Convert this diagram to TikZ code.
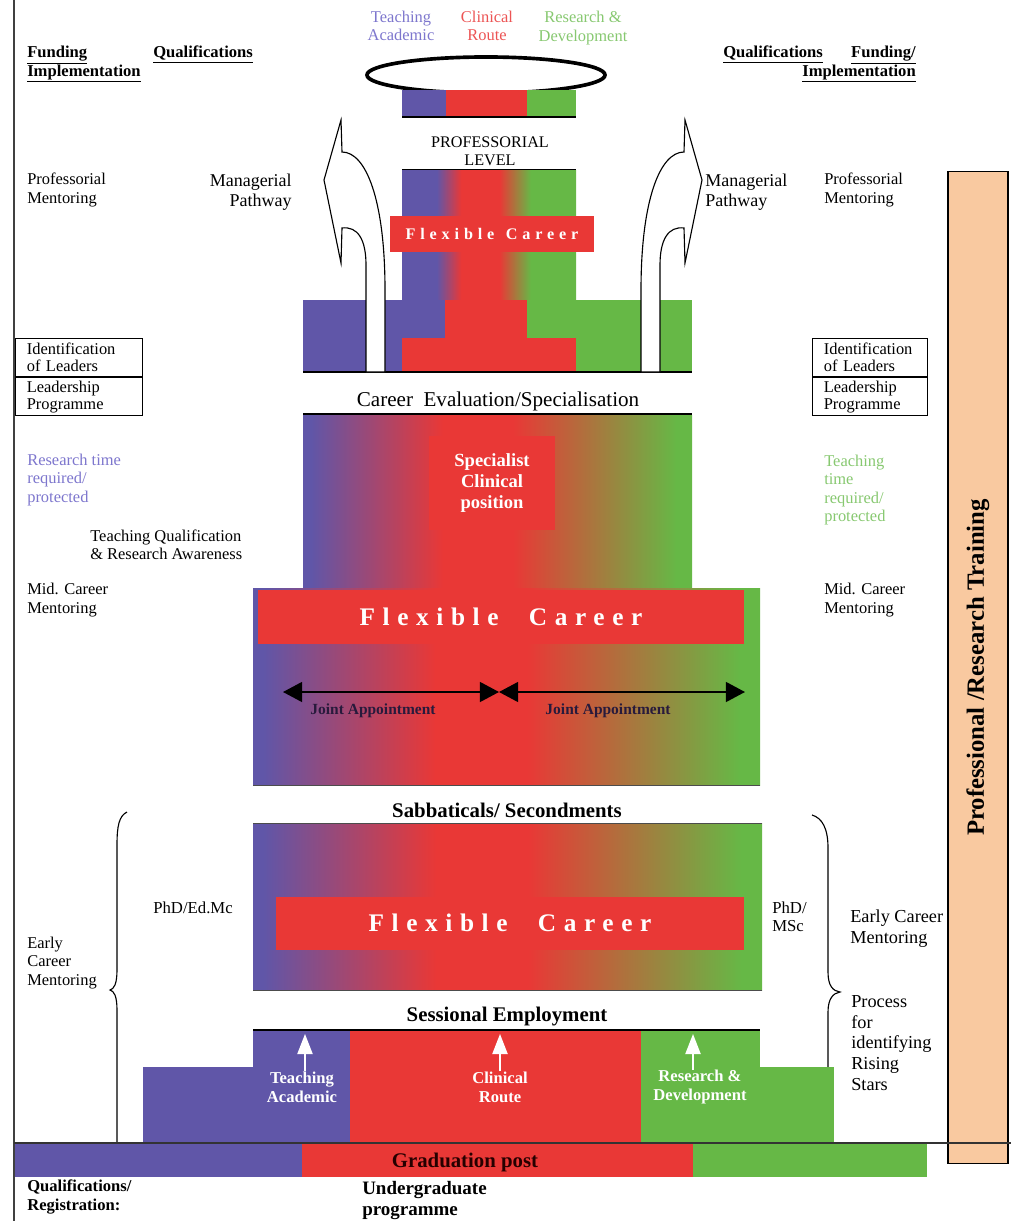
\documentclass[tikz,border=0pt]{standalone}
\usepackage{fontspec}
\setmainfont{Liberation Serif}
\usepackage{tikz}
\usetikzlibrary{calc,arrows.meta,positioning,shapes.geometric}

\definecolor{cblue}{RGB}{96,86,168}
\definecolor{cred}{RGB}{233,56,54}
\definecolor{cgreen}{RGB}{102,184,70}
\definecolor{cpeach}{RGB}{249,201,160}
\definecolor{ltblue}{RGB}{125,118,205}
\definecolor{ltred}{RGB}{236,84,84}
\definecolor{ltgreen}{RGB}{135,200,112}
\definecolor{navy}{RGB}{40,26,60}

\pgfdeclarehorizontalshading{career}{100bp}{color(0bp)=(cblue); color(26bp)=(cblue); color(43bp)=(cred); color(52bp)=(cred); color(73bp)=(cgreen); color(100bp)=(cgreen)}
\pgfdeclarehorizontalshading{tower}{100bp}{color(0bp)=(cblue); color(35bp)=(cblue); color(42bp)=(cred); color(53bp)=(cred); color(62bp)=(cgreen); color(100bp)=(cgreen)}

\begin{document}
\begin{tikzpicture}[x=0.025cm,y=-0.025cm]

  % Parameters
  \def\axis{1026}

  % Styles
  \tikzstyle{txt}=[inner sep=0pt,align=left,font=\fontsize{11.7}{13}\selectfont]
  \tikzstyle{head}=[inner sep=0pt,align=left,font=\fontsize{11.8}{13}\selectfont\bfseries]
  \tikzstyle{stage}=[inner sep=0pt,font=\fontsize{14.8}{16}\selectfont\bfseries]
  \tikzstyle{flex}=[fill=cred,text=white,inner sep=0pt,font=\fontsize{18}{20}\selectfont\bfseries\addfontfeature{LetterSpace=30}]
  \tikzstyle{route}=[text=white,inner sep=0pt,align=center,font=\fontsize{11.8}{13.5}\selectfont\bfseries]
  \tikzstyle{idbox}=[draw,thick,inner xsep=8pt,inner ysep=1pt,align=left,anchor=north west,minimum height=0.95cm,font=\fontsize{11.7}{12.2}\selectfont]
  \tikzstyle{rule}=[line width=1.5pt]
  \tikzstyle{pathway}=[draw,thick,fill=white]
  \tikzstyle{joint}=[line width=1.3pt,{Triangle[length=0.48cm,width=0.5cm]}-{Triangle[length=0.48cm,width=0.5cm]}]
  \tikzstyle{jlabel}=[inner sep=0pt,text=navy,font=\fontsize{11}{12}\selectfont\bfseries]
  \tikzstyle{rise}=[white,line width=1pt,-{Triangle[length=0.5cm,width=0.38cm]}]
  \tikzstyle{brace}=[thick]

  % \pathway{<transform>}
  \newcommand{\pathway}[1]{%
    \draw[pathway,#1] (641,372) -- (641,290) .. controls (641,200) and (660,152) .. (684,152)
      -- (685,120) -- (702,180) -- (685,263) -- (684,228)
      .. controls (668,226) and (660,240) .. (660,265) -- (660,372) -- cycle;
  }

  % ===========================================================================

  \useasboundingbox (0,0) rectangle (1011,1221);
  \draw[line width=1.5pt,black!75] (14,0) -- (14,1221);

  % Headings
  \node[txt,text=ltblue,align=center] (top-teach) at (401,26) {Teaching\\Academic};
  \node[txt,text=ltred,align=center] (top-clin) at (487,26) {Clinical\\Route};
  \node[txt,text=ltgreen,align=center] (top-rnd) at (583,28) {Research \&\\Development};
  \node[head,anchor=north west] (fund-l) at (27,46) {\underline{Funding}\\\underline{Implementation}};
  \node[head,anchor=north west] (qual-l) at (153,46) {\underline{Qualifications}};
  \node[head,anchor=north west] (qual-r) at (723,46) {\underline{Qualifications}};
  \node[head,anchor=north east,align=right] (fund-r) at (916,46) {\underline{Funding/}\\\underline{Implementation}};

  % Professorial level
  \node[draw,ellipse,line width=2.6pt,minimum width=5.95cm,minimum height=0.9cm] (halo) at (486,75) {};
  \fill[cblue] (402,90) rectangle (446,117);
  \fill[cred] (446,90) rectangle (527,117);
  \fill[cgreen] (527,90) rectangle (576,117);
  \draw[rule] (402,117) -- (576,117);
  \node[txt,align=center,font=\fontsize{11.5}{12.5}\selectfont] (prof-level) at (490,151) {PROFESSORIAL\\LEVEL};

  \draw[rule] (402,170) -- (576,170);
  \shade[shading=tower] (402,171) rectangle (576,300);
  \fill[cblue] (303,300) rectangle (445,338);
  \fill[cred] (445,300) rectangle (527,338);
  \fill[cgreen] (527,300) rectangle (692,338);
  \fill[cblue] (303,338) rectangle (402,372);
  \fill[cred] (402,338) rectangle (576,372);
  \fill[cgreen] (576,338) rectangle (692,372);
  \draw[rule] (303,372) -- (692,372);
  \node[flex,minimum width=5.1cm,minimum height=0.92cm,font=\fontsize{11.5}{13}\selectfont\bfseries\addfontfeature{LetterSpace=30}] (flex-top) at (492,234) {Flexible\, Career};

  % Managerial pathways
  \pathway{}
  \pathway{shift={(\axis,0)},xscale=-1}
  \node[txt,align=right,anchor=east,font=\fontsize{12.8}{14}\selectfont] (mgr-l) at (292,192) {Managerial\\Pathway};
  \node[txt,anchor=west,font=\fontsize{12.8}{14}\selectfont] (mgr-r) at (705,192) {Managerial\\Pathway};
  \node[txt,anchor=west] (pm-l) at (27,190) {Professorial\\Mentoring};
  \node[txt,anchor=west] (pm-r) at (824,190) {Professorial\\Mentoring};

  % Leaders
  \node[idbox,text width=2.6cm] (id-l) at (15,338) {Identification\\of Leaders};
  \node[idbox,text width=2.6cm,below=0pt of id-l.south west,anchor=north west] (lead-l) {Leadership\\Programme};
  \node[idbox,text width=2.3cm] (id-r) at (812,338) {Identification\\of Leaders};
  \node[idbox,text width=2.3cm,below=0pt of id-r.south west,anchor=north west] (lead-r) {Leadership\\Programme};

  % Mid career
  \node[txt,font=\fontsize{15}{16}\selectfont] (evaluation) at (498,401) {Career\enspace Evaluation/Specialisation};
  \draw[rule] (303,414) -- (692,414);
  \shade[shading=career] (303,415) rectangle (692,588);
  \shade[shading=career] (253,588) rectangle (760,785);
  \draw[black!70] (253,785) -- (760,785);
  \node[fill=cred,text=white,align=center,minimum width=3.125cm,minimum height=2.325cm,font=\fontsize{13.2}{15}\selectfont\bfseries] (specialist) at (492,483) {Specialist\\Clinical\\position};
  \node[flex,minimum width=12.15cm,minimum height=1.35cm] (flex-mid) at (501,617) {Flexible\hspace{1.2em}Career};

  \coordinate (jl) at (283,692);
  \coordinate (jm) at (499,692);
  \coordinate (jr) at (745,692);
  \draw[joint] (jl) -- (jm);
  \draw[joint] (jm) -- (jr);
  \node[jlabel] (ja-l) at (373,711) {Joint Appointment};
  \node[jlabel] (ja-r) at (608,711) {Joint Appointment};

  \node[txt,text=ltblue,anchor=west] (rt-l) at (27,480) {Research time\\required/\\protected};
  \node[txt,text=ltgreen,anchor=west] (tt-r) at (824,490) {Teaching\\time\\required/\\protected};
  \node[txt,anchor=west] (tq-l) at (90,545) {Teaching Qualification\\\& Research Awareness};
  \node[txt,anchor=west] (mid-l) at (27,600) {Mid. Career\\Mentoring};
  \node[txt,anchor=west] (mid-r) at (824,600) {Mid. Career\\Mentoring};

  % Early career
  \node[stage] (sabbatical) at (507,810) {Sabbaticals/ Secondments};
  \shade[shading=career] (253,823) rectangle (762,990);
  \draw[black!70] (253,823) -- (762,823);
  \draw[black!70] (253,990) -- (762,990);
  \node[flex,minimum width=11.675cm,minimum height=1.325cm] (flex-low) at (510,923) {Flexible\hspace{1.2em}Career};
  \node[txt,font=\fontsize{11.9}{13}\selectfont] (phd-l) at (193,908) {PhD/Ed.Mc};
  \node[txt,anchor=west,font=\fontsize{11.9}{13}\selectfont] (phd-r) at (772,917) {PhD/\\MSc};

  \draw[brace] (127,812) .. controls (119,816) and (117,826) .. (117,845) -- (117,970)
    .. controls (117,984) and (114,989) .. (110,990) .. controls (114,991) and (117,996) .. (117,1010)
    -- (117,1145) .. controls (117,1160) and (120,1165) .. (125,1168);
  \draw[brace] (812,815) .. controls (822,818) and (828,828) .. (828,848) -- (828,972)
    .. controls (828,986) and (833,991) .. (840,992) .. controls (833,993) and (828,999) .. (828,1012)
    -- (828,1145) .. controls (828,1160) and (821,1165) .. (812,1167);
  \node[txt,anchor=west] (ecm-l) at (27,963) {Early\\Career\\Mentoring};
  \node[txt,anchor=west,font=\fontsize{13}{15}\selectfont] (ecm-r) at (850,929) {Early Career\\Mentoring};
  \node[txt,anchor=west,font=\fontsize{13}{14.8}\selectfont] (stars) at (851,1043) {Process\\for\\identifying\\Rising\\Stars};

  % Entry level
  \node[stage] (sessional) at (507,1017) {Sessional Employment};
  \fill[cblue] (143,1067) rectangle (253,1143);
  \fill[cgreen] (760,1067) rectangle (834,1143);
  \fill[cblue] (253,1030) rectangle (350,1143);
  \fill[cred] (350,1030) rectangle (641,1143);
  \fill[cgreen] (641,1030) rectangle (760,1143);
  \draw[rule] (253,1030) -- (760,1030);

  \node[route] (r-teach) at (302,1087) {Teaching\\Academic};
  \node[route] (r-clin) at (500,1087) {Clinical\\Route};
  \node[route] (r-rnd) at (700,1087) {Research \&\\Development};
  \coordinate (up-teach) at (305,1034);
  \coordinate (up-clin) at (500,1034);
  \coordinate (up-rnd) at (693,1034);
  \draw[rise] (r-teach.north -| up-teach) -- (up-teach);
  \draw[rise] (r-clin.north -| up-clin) -- (up-clin);
  \draw[rise] (r-rnd.north -| up-rnd) -- (up-rnd);

  % Training column
  \node[draw,thick,fill=cpeach,rotate=90,minimum width=24.775cm,minimum height=1.5cm,font=\fontsize{17.6}{19}\selectfont\bfseries] (training) at (978,667.5) {Professional /Research Training};

  % Graduation
  \fill[cblue] (15,1143) rectangle (302,1177);
  \fill[cred] (302,1143) rectangle (693,1177);
  \fill[cgreen] (693,1143) rectangle (927,1177);
  \draw[line width=1.2pt,black!80] (14,1143) -- (1011,1143);
  \node[stage,text=black!85!red] (graduation) at (465,1162) {Graduation post};
  \node[head,anchor=north west] (qual-reg) at (27,1180) {Qualifications/\\Registration:};
  \node[head,anchor=north west,font=\fontsize{13.5}{15}\selectfont\bfseries] (undergrad) at (362,1181) {Undergraduate\\programme};

\end{tikzpicture}
\end{document}
